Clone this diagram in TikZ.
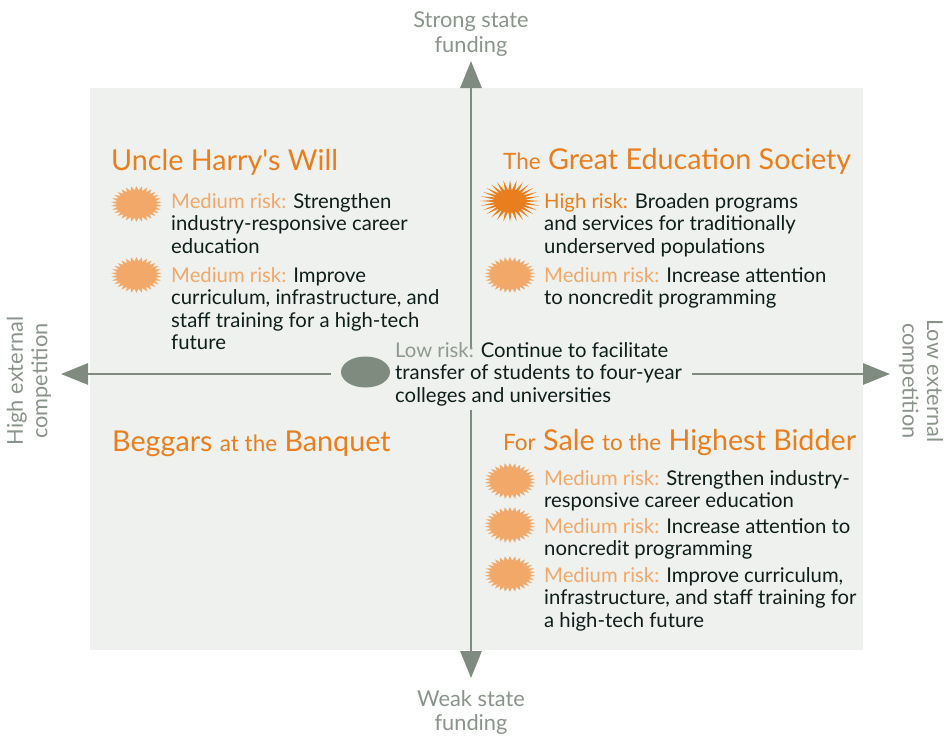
\documentclass[tikz,border=0pt]{standalone}
\usepackage{fontspec}
\setmainfont{Lato}
\newfontfamily\straightf{Lato}
\usetikzlibrary{shapes.geometric,arrows.meta}
\definecolor{panel}{HTML}{EFF1EE}
\definecolor{axis}{HTML}{7F8B7E}
\definecolor{orng}{HTML}{E87E1E}
\definecolor{lorng}{HTML}{F2A868}
\definecolor{ink}{HTML}{0E1E1A}
\definecolor{lowg}{HTML}{8E9A8E}
\definecolor{lab}{HTML}{8A948A}
\newcommand{\med}[1]{\textcolor{lorng}{Medium risk:} #1}
\newcommand{\smt}[1]{{\fontsize{22.5}{24}\selectfont #1}}
\tikzset{
  axisline/.style={draw=axis,line width=2.8pt,-{Triangle[length=27pt,width=21pt]}},
  body/.style={anchor=north west,inner sep=0pt,align=left,text=ink,font=\fontsize{20.3}{22.5}\selectfont},
  title/.style={anchor=base west,inner sep=0pt,text=orng,font=\fontsize{28.7}{30}\selectfont},
  axlabel/.style={inner sep=0pt,align=center,text=lab,font=\fontsize{21.8}{24.5}\selectfont},
  medstar/.style={star,star points=30,star point ratio=1.32,minimum size=36pt,inner sep=0pt,fill=lorng,draw=none,xscale=1.42},
  highstar/.style={star,star points=28,star point ratio=2.0,minimum size=42pt,inner sep=0pt,fill=orng,draw=none,xscale=1.43}
}
\begin{document}
\begin{tikzpicture}[x=1pt,y=-1pt]
\useasboundingbox (0,0) rectangle (948,736);
\fill[panel] (90,88) rectangle (863,650);
% centre
\node[ellipse,fill=axis,minimum width=49pt,minimum height=31pt,inner sep=0pt] (hub) at (365.5,372) {};
\coordinate (ct) at (471,349);
\coordinate (cb) at (471,410);
\coordinate (cl) at (331,374);
\coordinate (cr) at (692,374);
\coordinate (tt) at (471,61);
\coordinate (tb) at (471,678);
\coordinate (tl) at (61,374);
\coordinate (tr) at (890,374);
\draw[axisline] (ct) -- (tt);
\draw[axisline] (cb) -- (tb);
\draw[axisline] (cl) -- (tl);
\draw[axisline] (cr) -- (tr);
% axis labels
\node[axlabel] (ltop) at (471,34) {Strong state\\funding};
\node[axlabel] (lbot) at (471,712.5) {Weak state\\funding};
\node[axlabel,rotate=90] (lleft) at (29,381) {High external\\competition};
\node[axlabel,rotate=-90] (lright) at (921,381) {Low external\\competition};
% titles
\node[title] (t1) at (111,170) {Uncle Harry{\straightf '}s Will};
\node[title] (t2) at (503,169) {\smt{The} Great Education Society};
\node[title] (t3) at (112,451) {Beggars \smt{at the} Banquet};
\node[title] (t4) at (503,450) {\smt{For} Sale \smt{to the} Highest Bidder};
% upper left
\node[medstar] (s1) at (136.5,204) {};
\node[body] (b1) at (171,193) {\med{Strengthen}\\industry-responsive career\\education};
\node[medstar] (s2) at (136.5,275) {};
\node[body] (b2) at (171,267) {\med{Improve}\\curriculum, infrastructure, and\\staff training for a high-tech\\future};
% upper right
\node[highstar] (s3) at (510,201) {};
\node[body] (b3) at (544,193) {\textcolor{orng}{High risk:} Broaden programs\\and services for traditionally\\underserved populations};
\node[medstar] (s4) at (510,275) {};
\node[body] (b4) at (544,267) {\med{Increase attention}\\to noncredit programming};
% centre text
\node[body] (b5) at (395,342) {\textcolor{lowg}{Low risk:} Continue to facilitate\\transfer of students to four-year\\colleges and universities};
% lower right
\node[medstar] (s5) at (510,481) {};
\node[body] (b6) at (544,470) {\med{Strengthen industry-}\\responsive career education};
\node[medstar] (s6) at (510,525) {};
\node[body] (b7) at (544,518) {\med{Increase attention to}\\noncredit programming};
\node[medstar] (s7) at (510,574) {};
\node[body] (b8) at (544,567) {\med{Improve curriculum,}\\infrastructure, and staff training for\\a high-tech future};
\end{tikzpicture}
\end{document}
